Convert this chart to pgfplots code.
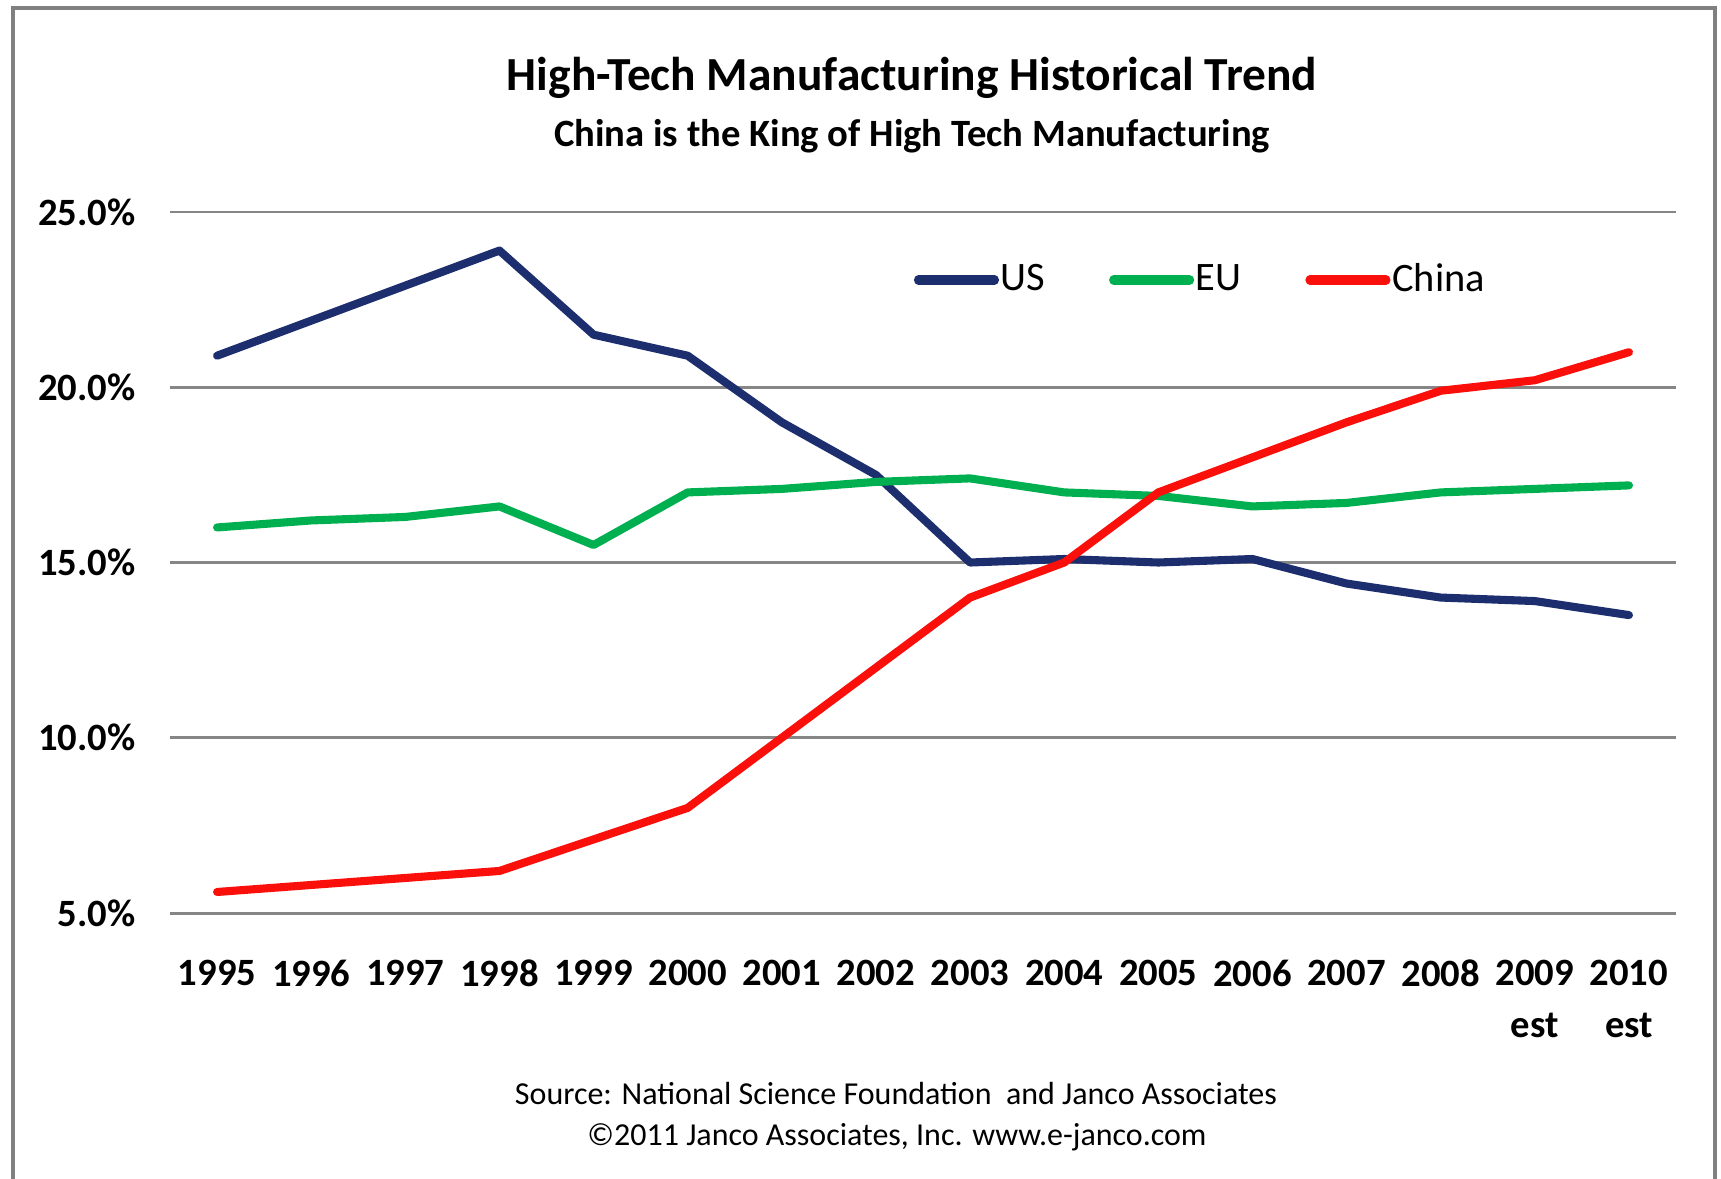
\documentclass[border=0pt]{standalone}
\usepackage{pgfplots}
\pgfplotsset{compat=1.18}
\usepackage{pgfplotstable}
\usepackage{fontspec}
\setmainfont{Carlito}
\definecolor{usblue}{RGB}{28,46,110}
\definecolor{eugreen}{RGB}{0,176,80}
\definecolor{cnred}{RGB}{250,15,10}
\definecolor{gridgray}{RGB}{134,134,134}
\definecolor{framegray}{RGB}{128,128,128}
\pgfplotstableread{
x US EU China
0 20.9 16.0 5.6
1 21.9 16.2 5.8
2 22.9 16.3 6.0
3 23.9 16.6 6.2
4 21.5 15.5 7.1
5 20.9 17.0 8.0
6 19.0 17.1 10.0
7 17.5 17.3 12.0
8 15.0 17.4 14.0
9 15.1 17.0 15.0
10 15.0 16.9 17.0
11 15.1 16.6 18.0
12 14.4 16.7 19.0
13 14.0 17.0 19.9
14 13.9 17.1 20.2
15 13.5 17.2 21.0
}\datatable
\begin{document}
\begin{tikzpicture}
\path[use as bounding box] (0,0) rectangle (17.21,-11.78);
\draw[framegray, line width=1.1pt] (0.13,-12.0) -- (0.13,-0.08) -- (17.15,-0.08) -- (17.15,-12.0);
\node[font=\fontsize{13.5}{16}\selectfont\bfseries] at (9.12,-0.78) {High-Tech Manufacturing Historical Trend};
\node[font=\fontsize{11}{14}\selectfont\bfseries] at (9.12,-1.36) {China is the King of High Tech Manufacturing};
\node[font=\fontsize{9.1}{11}\selectfont] at (8.96,-10.94) {Source: National Science Foundation\ \ and Janco Associates};
\node[font=\fontsize{9.1}{11}\selectfont] at (8.97,-11.37) {©2011 Janco Associates, Inc. www.e-janco.com};
\begin{axis}[
  at={(1.70cm,-9.13cm)}, anchor=south west,
  scale only axis, width=15.06cm, height=7.01cm,
  xmin=-0.5, xmax=15.5, ymin=5, ymax=25,
  axis line style={draw=none},
  major tick length=0pt,
  ymajorgrids, grid style={gridgray, line width=0.85pt},
  ytick={5,10,15,20,25},
  yticklabels={5.0\%,10.0\%,15.0\%,20.0\%,25.0\%},
  yticklabel style={font=\fontsize{11}{15}\selectfont\bfseries, anchor=east, inner sep=0pt, xshift=-0.34cm},
  xtick={0,...,15},
  xticklabels={1995,1996,1997,1998,1999,2000,2001,2002,2003,2004,2005,2006,2007,2008,{2009\\est},{2010\\est}},
  xticklabel style={font=\fontsize{11}{15}\selectfont\bfseries, align=center, anchor=north, inner sep=0pt, yshift=-0.46cm},
  legend columns=3,
  legend style={draw=none, fill=none, at={(0.4935,0.903)}, anchor=west, inner sep=0pt,
    font=\fontsize{11.5}{14}\selectfont,
    nodes={inner xsep=0.5pt},
    /tikz/every even column/.append style={column sep=0.62cm}},
  legend image code/.code={\draw[#1, line width=2.6pt, line cap=round] (0cm,0cm) -- (0.76cm,0cm);},
  every axis plot/.append style={line width=2.3pt, line join=round, line cap=round, mark=none},
]
\addplot[usblue] table[x=x, y=US] {\datatable};
\addlegendentry{US}
\addplot[eugreen] table[x=x, y=EU] {\datatable};
\addlegendentry{EU}
\addplot[cnred] table[x=x, y=China] {\datatable};
\addlegendentry{China}
\end{axis}
\end{tikzpicture}
\end{document}
